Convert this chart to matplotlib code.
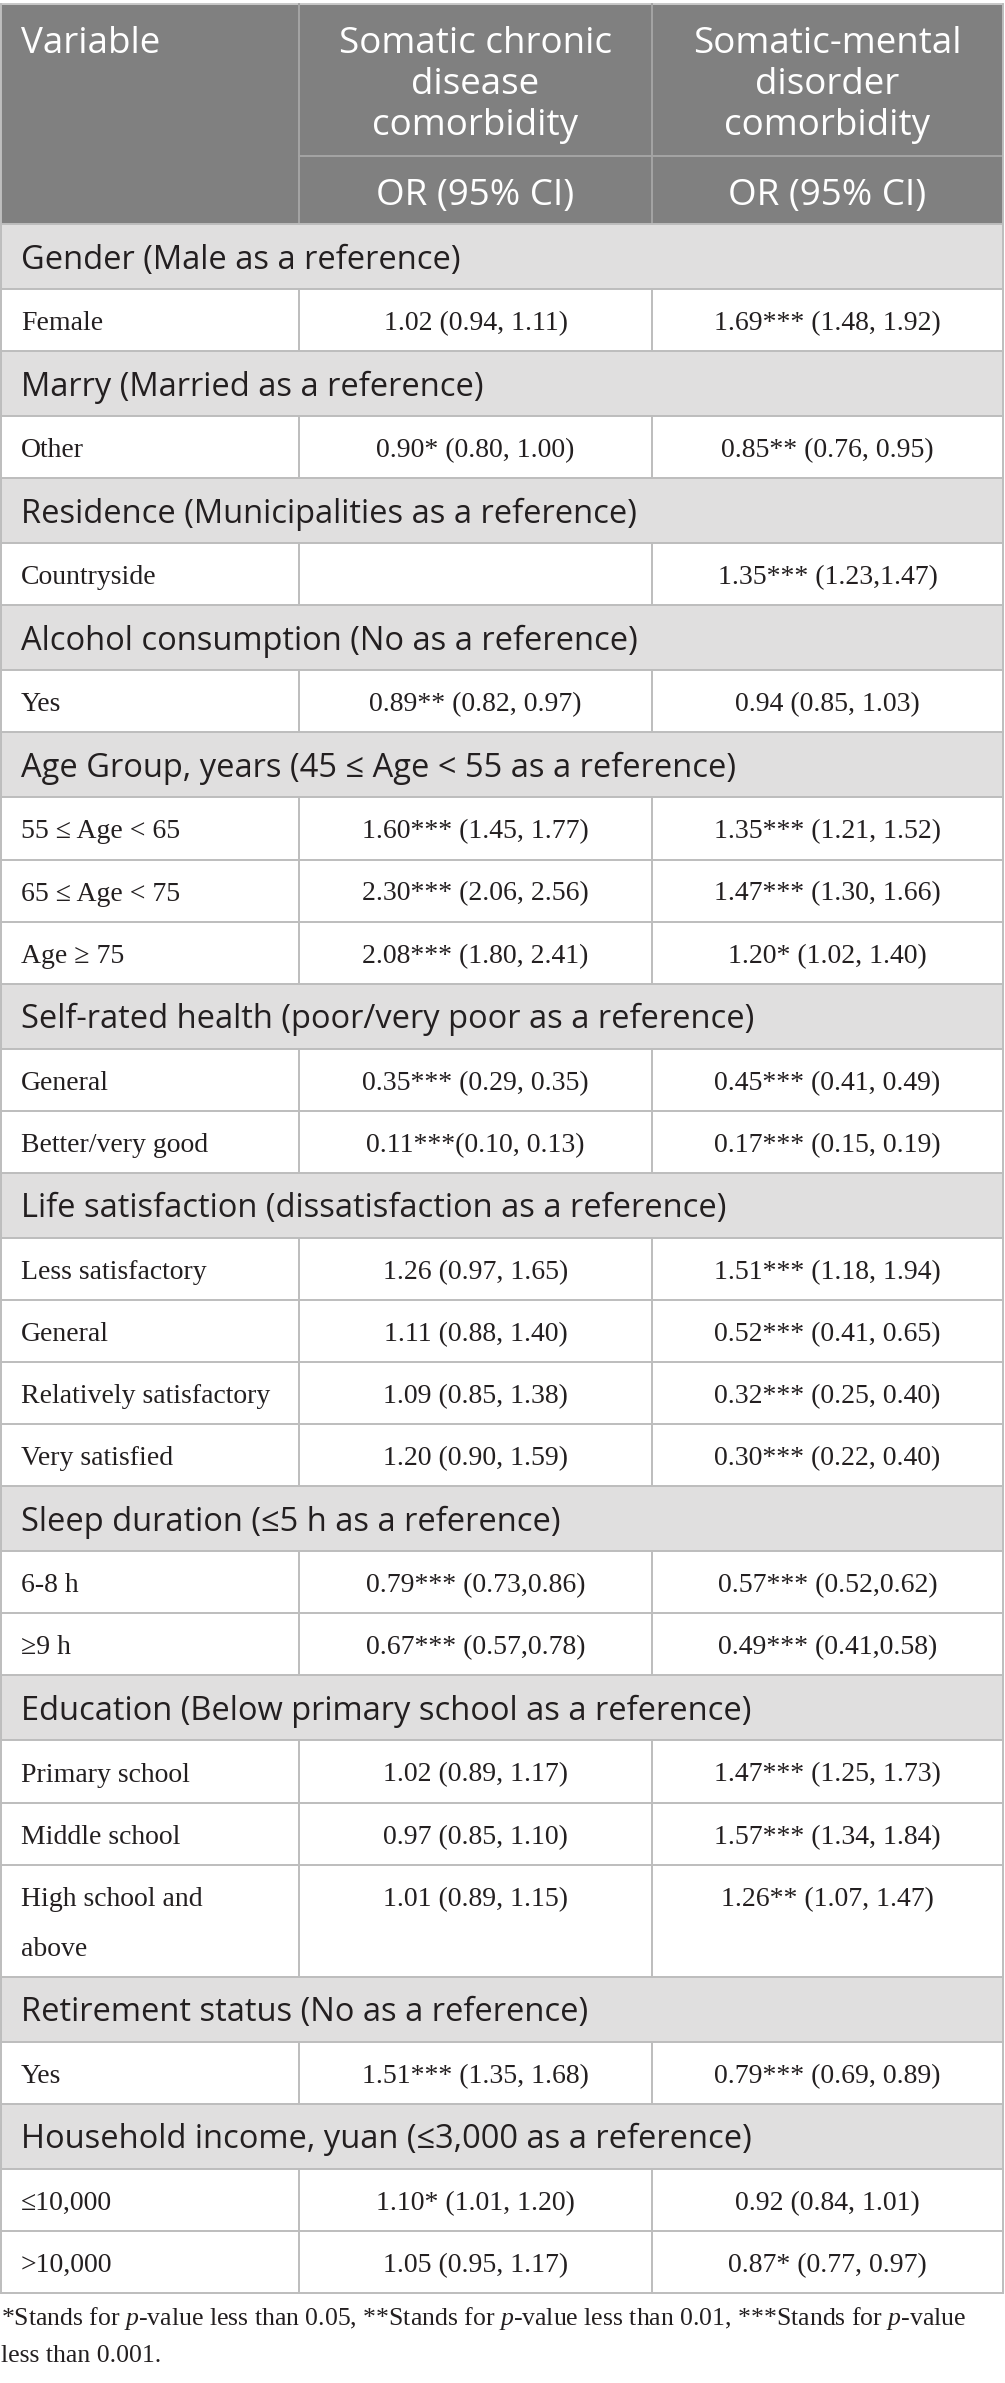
import matplotlib.pyplot as plt
from matplotlib.patches import Rectangle

plt.rcParams['mathtext.fontset'] = 'custom'
plt.rcParams['mathtext.rm'] = 'Liberation Serif'
plt.rcParams['mathtext.it'] = 'Liberation Serif:italic'

# table content
col_titles = ["Variable", "Somatic chronic\ndisease\ncomorbidity", "Somatic-mental\ndisorder\ncomorbidity"]
sub_title = "OR (95% CI)"

section_titles = [
    "Gender (Male as a reference)",
    "Marry (Married as a reference)",
    "Residence (Municipalities as a reference)",
    "Alcohol consumption (No as a reference)",
    "Age Group, years (45 ≤ Age < 55 as a reference)",
    "Self-rated health (poor/very poor as a reference)",
    "Life satisfaction (dissatisfaction as a reference)",
    "Sleep duration (≤5 h as a reference)",
    "Education (Below primary school as a reference)",
    "Retirement status (No as a reference)",
    "Household income, yuan (≤3,000 as a reference)",
]
section_sizes = [1, 1, 1, 1, 3, 2, 4, 2, 3, 1, 2]

row_labels = [
    "Female", "Other", "Countryside", "Yes",
    "55 ≤ Age < 65", "65 ≤ Age < 75", "Age ≥ 75",
    "General", "Better/very good",
    "Less satisfactory", "General", "Relatively satisfactory", "Very satisfied",
    "6-8 h", "≥9 h",
    "Primary school", "Middle school", "High school and\nabove",
    "Yes",
    "≤10,000", ">10,000",
]
chronic = [
    "1.02 (0.94, 1.11)", "0.90* (0.80, 1.00)", "", "0.89** (0.82, 0.97)",
    "1.60*** (1.45, 1.77)", "2.30*** (2.06, 2.56)", "2.08*** (1.80, 2.41)",
    "0.35*** (0.29, 0.35)", "0.11***(0.10, 0.13)",
    "1.26 (0.97, 1.65)", "1.11 (0.88, 1.40)", "1.09 (0.85, 1.38)", "1.20 (0.90, 1.59)",
    "0.79*** (0.73,0.86)", "0.67*** (0.57,0.78)",
    "1.02 (0.89, 1.17)", "0.97 (0.85, 1.10)", "1.01 (0.89, 1.15)",
    "1.51*** (1.35, 1.68)",
    "1.10* (1.01, 1.20)", "1.05 (0.95, 1.17)",
]
mental = [
    "1.69*** (1.48, 1.92)", "0.85** (0.76, 0.95)", "1.35*** (1.23,1.47)", "0.94 (0.85, 1.03)",
    "1.35*** (1.21, 1.52)", "1.47*** (1.30, 1.66)", "1.20* (1.02, 1.40)",
    "0.45*** (0.41, 0.49)", "0.17*** (0.15, 0.19)",
    "1.51*** (1.18, 1.94)", "0.52*** (0.41, 0.65)", "0.32*** (0.25, 0.40)", "0.30*** (0.22, 0.40)",
    "0.57*** (0.52,0.62)", "0.49*** (0.41,0.58)",
    "1.47*** (1.25, 1.73)", "1.57*** (1.34, 1.84)", "1.26** (1.07, 1.47)",
    "0.79*** (0.69, 0.89)",
    "0.92 (0.84, 1.01)", "0.87* (0.77, 0.97)",
]
footnote = ["*Stands for $p$-value less than 0.05, **Stands for $p$-value less than 0.01, ***Stands for $p$-value",
            "less than 0.001."]

# figure in pixel coordinates
W, H = 1005, 2383
fig = plt.figure(figsize=(W / 100, H / 100), dpi=100)
ax = fig.add_axes([0, 0, 1, 1])
ax.set_xlim(0, W)
ax.set_ylim(H, 0)
ax.axis('off')

x0, x1, x2, x3 = 1, 299, 652, 1003
head_top, head_mid, head_bot = 4, 156, 224
sec_h, row_h, line_gap = 65, 62.1, 50

head_bg = '#808080'
sec_bg = '#e0dfdf'
grid = '#bdbdbd'
txt = '#231f20'
lw = 1.4
sans = ['Open Sans', 'DejaVu Sans']
serif = ['Liberation Serif', 'DejaVu Serif']

# header
ax.add_patch(Rectangle((x0, head_top), x3 - x0, head_bot - head_top, color=head_bg, lw=0))
ax.plot([x0, x3], [head_top, head_top], color='#c8c8c8', lw=lw)
for xv in (x1, x2):
    ax.plot([xv, xv], [head_top, head_bot], color='#a5a5a5', lw=lw)
ax.plot([x1, x3], [head_mid, head_mid], color='#a5a5a5', lw=lw)

cx1, cx2 = (x1 + x2) / 2, (x2 + x3) / 2
ax.text(21, 53, col_titles[0], color='white', fontsize=26.5, family=sans, va='baseline')
for cx, title in ((cx1, col_titles[1]), (cx2, col_titles[2])):
    for i, part in enumerate(title.split('\n')):
        ax.text(cx, 53 + 41 * i, part, color='white', fontsize=26.5, family=sans,
                ha='center', va='baseline')
    ax.text(cx, 205, sub_title, color='white', fontsize=26.5, family=sans,
            ha='center', va='baseline')

# body
y = head_bot
r = 0
for title, n in zip(section_titles, section_sizes):
    ax.add_patch(Rectangle((x0, y), x3 - x0, sec_h, color=sec_bg, lw=0))
    ax.plot([x0, x3], [y, y], color=grid, lw=lw)
    ax.text(21, y + sec_h / 2 + 12, title, color=txt, fontsize=23.5, family=sans, va='baseline')
    y += sec_h
    for _ in range(n):
        lines = row_labels[r].split('\n')
        h = row_h + line_gap * (len(lines) - 1)
        ax.plot([x0, x3], [y, y], color=grid, lw=lw)
        for xv in (x1, x2):
            ax.plot([xv, xv], [y, y + h], color=grid, lw=lw)
        base = y + row_h / 2 + 10
        for i, part in enumerate(lines):
            ax.text(21, base + line_gap * i, part, color=txt, fontsize=20, family=serif, va='baseline')
        ax.text(cx1, base, chronic[r], color=txt, fontsize=20, family=serif, ha='center', va='baseline')
        ax.text(cx2, base, mental[r], color=txt, fontsize=20, family=serif, ha='center', va='baseline')
        y += h
        r += 1
ax.plot([x0, x3], [y, y], color=grid, lw=lw)
for xv in (x0, x3):
    ax.plot([xv, xv], [head_top, y], color=grid, lw=lw)

# footnote
ax.text(1, y + 32, footnote[0], color=txt, fontsize=18.5, family=serif, va='baseline')
ax.text(1, y + 69, footnote[1], color=txt, fontsize=18.5, family=serif, va='baseline')

fig.savefig('out.png', dpi=100)
